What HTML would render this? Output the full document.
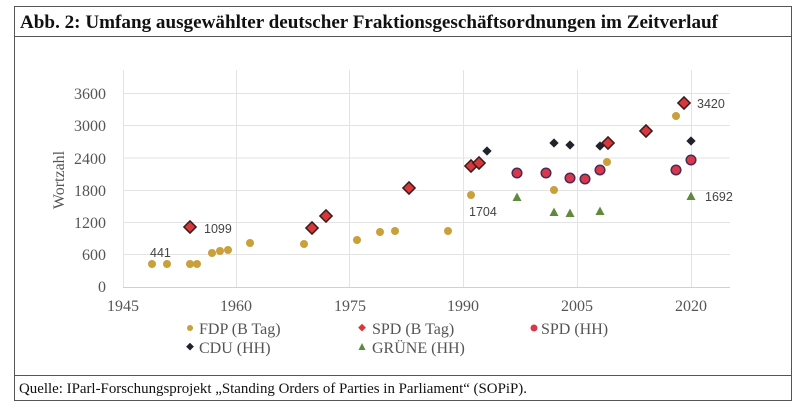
<!DOCTYPE html>
<html><head><meta charset="utf-8"><style>
body{margin:0;background:#fff;width:800px;height:417px;overflow:hidden}
svg{display:block}
</style></head><body>
<svg width="800" height="417" xmlns="http://www.w3.org/2000/svg">
<defs>
<g id="fdp"><circle r="4" fill="#c9a03a"/></g>
<g id="spdb"><rect x="-4.3" y="-4.3" width="8.6" height="8.6" fill="#d8383c" stroke="#3a1a1a" stroke-width="1.5" transform="rotate(45)"/></g>
<g id="cdu"><rect x="-3.3" y="-3.3" width="6.6" height="6.6" fill="#22222c" transform="rotate(45)"/></g>
<g id="spdh"><circle r="4.8" fill="#d8384a" stroke="#4a2a5a" stroke-width="1.5"/></g>
<g id="gr"><polygon points="0,-4.5 4.5,4 -4.5,4" fill="#5e8a3e"/></g>
</defs>
<rect x="14.5" y="6.5" width="777" height="394" fill="#fff" stroke="#555" stroke-width="1"/>
<line x1="14" y1="36.5" x2="792" y2="36.5" stroke="#555"/>
<line x1="14" y1="375.5" x2="792" y2="375.5" stroke="#555"/>
<text x="20" y="28" font-family="Liberation Serif,serif" font-weight="bold" font-size="19" textLength="698" lengthAdjust="spacingAndGlyphs" fill="#111">Abb. 2: Umfang ausgewählter deutscher Fraktionsgeschäftsordnungen im Zeitverlauf</text>
<text x="19" y="393" font-family="Liberation Serif,serif" font-size="14.5" textLength="508" lengthAdjust="spacingAndGlyphs" fill="#111">Quelle: IParl-Forschungsprojekt „Standing Orders of Parties in Parliament“ (SOPiP).</text>
<g stroke="#e3e3e3" stroke-width="1">
<line x1="123" y1="254.5" x2="730" y2="254.5"/>
<line x1="123" y1="222.5" x2="730" y2="222.5"/>
<line x1="123" y1="190.5" x2="730" y2="190.5"/>
<line x1="123" y1="158" x2="730" y2="158"/>
<line x1="123" y1="125.5" x2="730" y2="125.5"/>
<line x1="123" y1="93.5" x2="730" y2="93.5"/>
<line x1="123.5" y1="70" x2="123.5" y2="287"/>
<line x1="236.5" y1="70" x2="236.5" y2="287"/>
<line x1="349.5" y1="70" x2="349.5" y2="287"/>
<line x1="463.5" y1="70" x2="463.5" y2="287"/>
<line x1="577.5" y1="70" x2="577.5" y2="287"/>
<line x1="691.5" y1="70" x2="691.5" y2="287"/>
</g>
<line x1="123" y1="287.5" x2="730" y2="287.5" stroke="#d0d0d0"/>
<g font-family="Liberation Serif,serif" font-size="16" fill="#555" text-anchor="end">
<text x="106" y="292">0</text><text x="106" y="260">600</text><text x="106" y="228">1200</text>
<text x="106" y="196">1800</text><text x="106" y="164">2400</text><text x="106" y="131">3000</text><text x="106" y="99">3600</text>
</g>
<g font-family="Liberation Serif,serif" font-size="16" fill="#555" text-anchor="middle">
<text x="123" y="311">1945</text><text x="236" y="311">1960</text><text x="350" y="311">1975</text>
<text x="463" y="311">1990</text><text x="577" y="311">2005</text><text x="691" y="311">2020</text>
</g>
<text transform="translate(64,180) rotate(-90)" font-family="Liberation Serif,serif" font-size="16" fill="#555" text-anchor="middle">Wortzahl</text>
<g font-family="Liberation Sans,sans-serif" font-size="12.5" fill="#444">
<text x="150" y="257">441</text><text x="204" y="233">1099</text><text x="469" y="216">1704</text>
<text x="697" y="108">3420</text><text x="705" y="201">1692</text>
</g>
<g>
<use href="#fdp" x="152" y="264"/><use href="#fdp" x="167" y="264"/><use href="#fdp" x="190" y="264"/><use href="#fdp" x="197" y="264"/>
<use href="#fdp" x="212" y="253"/><use href="#fdp" x="220" y="251"/><use href="#fdp" x="228" y="250"/><use href="#fdp" x="250" y="243"/>
<use href="#fdp" x="304" y="244"/><use href="#fdp" x="357" y="240"/><use href="#fdp" x="380" y="232"/><use href="#fdp" x="395" y="231"/>
<use href="#fdp" x="448" y="231"/><use href="#fdp" x="471" y="195"/><use href="#fdp" x="554" y="190"/><use href="#fdp" x="607" y="162"/><use href="#fdp" x="676" y="116"/>
<use href="#gr" x="517" y="197"/><use href="#gr" x="554" y="212"/><use href="#gr" x="570" y="213"/><use href="#gr" x="600" y="211"/><use href="#gr" x="691" y="196"/>
<use href="#spdh" x="517" y="173"/><use href="#spdh" x="546" y="173"/><use href="#spdh" x="570" y="178"/><use href="#spdh" x="585" y="179"/>
<use href="#spdh" x="600" y="170"/><use href="#spdh" x="676" y="170"/><use href="#spdh" x="691" y="160"/>
<use href="#cdu" x="487" y="151"/><use href="#cdu" x="554" y="143"/><use href="#cdu" x="570" y="145"/><use href="#cdu" x="600" y="146"/><use href="#cdu" x="691" y="141"/>
<use href="#spdb" x="190" y="227"/><use href="#spdb" x="312" y="228"/><use href="#spdb" x="326" y="216"/><use href="#spdb" x="409" y="188"/>
<use href="#spdb" x="471" y="166"/><use href="#spdb" x="479" y="163"/><use href="#spdb" x="608" y="143"/><use href="#spdb" x="646" y="131"/><use href="#spdb" x="684" y="103"/>
</g>
<g font-family="Liberation Serif,serif" font-size="16" fill="#555">
<circle cx="190" cy="328" r="3" fill="#c9a03a"/><text x="199" y="334">FDP (B Tag)</text>
<rect x="359" y="325" width="5.5" height="5.5" fill="#d8383c" transform="rotate(45 362 328)"/><text x="372" y="334">SPD (B Tag)</text>
<circle cx="534" cy="328" r="3.5" fill="#d8384a"/><text x="541" y="334">SPD (HH)</text>
<rect x="187" y="344" width="5.5" height="5.5" fill="#22222c" transform="rotate(45 190 347)"/><text x="199" y="353">CDU (HH)</text>
<polygon points="362,343 365.5,350 358.5,350" fill="#5e8a3e"/><text x="372" y="353">GRÜNE (HH)</text>
</g>
</svg>
</body></html>
